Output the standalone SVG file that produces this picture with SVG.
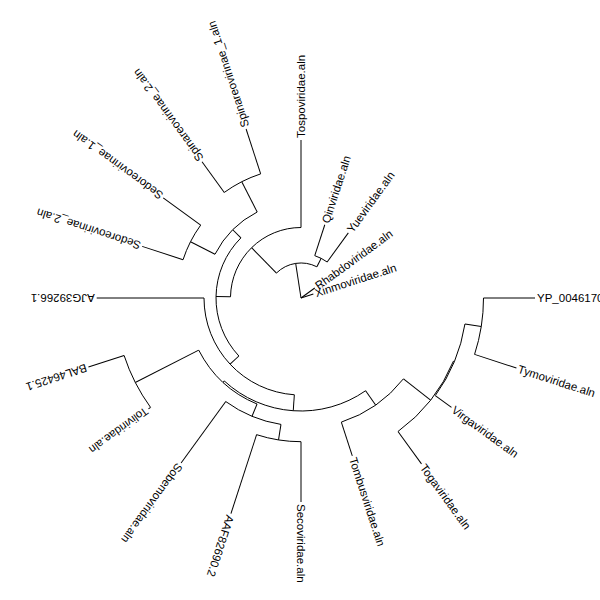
<svg xmlns="http://www.w3.org/2000/svg" width="600" height="600" viewBox="0 0 600 600">
<style>
.e{fill:none;stroke:#000;stroke-width:1}
text{font-family:"Liberation Sans",Arial,Helvetica,sans-serif;font-size:11.5px;fill:#000}
</style>
<rect width="600" height="600" fill="#fff"/>
<g id="connectors">
<!-- arcs -->
<path class="e" d="M483.5 298 A182.5 182.5 0 0 1 474.57 354.40"/>
<path class="e" d="M464.96 323.97 A166 166 0 0 1 435.30 395.57"/>
<path class="e" d="M453.44 361.14 A165 165 0 0 1 397.99 431.49"/>
<path class="e" d="M403.48 378.79 A130.5 130.5 0 0 1 341.33 422.11"/>
<path class="e" d="M301 441.7 A143.7 143.7 0 0 1 256.59 434.67"/>
<path class="e" d="M280.98 424.42 A128 128 0 0 1 225.76 401.55"/>
<path class="e" d="M150.52 407.33 A186 186 0 0 1 124.10 355.48"/>
<path class="e" d="M257.07 404.06 A114.8 114.8 0 0 1 198.71 350.12"/>
<path class="e" d="M365.61 390.71 A113 113 0 0 1 224.30 380.98"/>
<path class="e" d="M294.34 394.77 A97 97 0 0 1 204 298"/>
<path class="e" d="M183.07 259.68 A124 124 0 0 1 200.68 225.11"/>
<path class="e" d="M224.29 192.42 A130.5 130.5 0 0 1 260.67 173.89"/>
<path class="e" d="M215.02 254.19 A96.5 96.5 0 0 1 257.19 212.02"/>
<path class="e" d="M238.87 356.00 A85 85 0 0 1 240.90 237.90"/>
<path class="e" d="M230.51 296.79 A70.5 70.5 0 0 1 301 227.5"/>
<path class="e" d="M314.75 255.68 A44.5 44.5 0 0 1 327.16 262.00"/>
<path class="e" d="M276.46 273.04 A35 35 0 0 1 316.89 266.81"/>
<!-- leaf branches -->
<line class="e" x1="483.5" y1="298" x2="535" y2="298"/>
<line class="e" x1="483.5" y1="298" x2="527.5" y2="298" transform="rotate(18 301 298)"/>
<line class="e" x1="467" y1="298" x2="487" y2="298" transform="rotate(36 301 298)"/>
<line class="e" x1="466" y1="298" x2="506" y2="298" transform="rotate(54 301 298)"/>
<line class="e" x1="431.5" y1="298" x2="467" y2="298" transform="rotate(72 301 298)"/>
<line class="e" x1="444.7" y1="298" x2="505" y2="298" transform="rotate(90 301 298)"/>
<line class="e" x1="444.7" y1="298" x2="527.7" y2="298" transform="rotate(108 301 298)"/>
<line class="e" x1="429" y1="298" x2="505" y2="298" transform="rotate(126 301 298)"/>
<line class="e" x1="487" y1="298" x2="489.5" y2="298" transform="rotate(144 301 298)"/>
<line class="e" x1="487" y1="298" x2="524.5" y2="298" transform="rotate(162 301 298)"/>
<line class="e" x1="398" y1="298" x2="505.3" y2="298" transform="rotate(180 301 298)"/>
<line class="e" x1="425" y1="298" x2="468" y2="298" transform="rotate(198 301 298)"/>
<line class="e" x1="425" y1="298" x2="471.3" y2="298" transform="rotate(216 301 298)"/>
<line class="e" x1="431.5" y1="298" x2="469.4" y2="298" transform="rotate(234 301 298)"/>
<line class="e" x1="431.5" y1="298" x2="478.7" y2="298" transform="rotate(252 301 298)"/>
<line class="e" x1="371.5" y1="298" x2="459" y2="298" transform="rotate(270 301 298)"/>
<line class="e" x1="345.5" y1="298" x2="378" y2="298" transform="rotate(288 301 298)"/>
<line class="e" x1="345.5" y1="298" x2="381.5" y2="298" transform="rotate(306 301 298)"/>
<line class="e" x1="301" y1="298" x2="318" y2="298" transform="rotate(324 301 298)"/>
<line class="e" x1="301" y1="298" x2="314" y2="298" transform="rotate(342 301 298)"/>
<!-- internal stems -->
<line class="e" x1="467" y1="298" x2="483.5" y2="298" transform="rotate(9 301 298)"/>
<line class="e" x1="466" y1="298" x2="467" y2="298" transform="rotate(22.5 301 298)"/>
<line class="e" x1="431.5" y1="298" x2="466" y2="298" transform="rotate(38.25 301 298)"/>
<line class="e" x1="414" y1="298" x2="431.5" y2="298" transform="rotate(55.125 301 298)"/>
<line class="e" x1="429" y1="298" x2="444.7" y2="298" transform="rotate(99 301 298)"/>
<line class="e" x1="415.8" y1="298" x2="429" y2="298" transform="rotate(112.5 301 298)"/>
<line class="e" x1="415.8" y1="298" x2="487" y2="298" transform="rotate(153 301 298)"/>
<line class="e" x1="414" y1="298" x2="415.8" y2="298" transform="rotate(132.75 301 298)"/>
<line class="e" x1="398" y1="298" x2="414" y2="298" transform="rotate(93.9375 301 298)"/>
<line class="e" x1="386" y1="298" x2="398" y2="298" transform="rotate(136.96875 301 298)"/>
<line class="e" x1="397.5" y1="298" x2="425" y2="298" transform="rotate(207 301 298)"/>
<line class="e" x1="397.5" y1="298" x2="431.5" y2="298" transform="rotate(243 301 298)"/>
<line class="e" x1="386" y1="298" x2="397.5" y2="298" transform="rotate(225 301 298)"/>
<line class="e" x1="371.5" y1="298" x2="386" y2="298" transform="rotate(180.984375 301 298)"/>
<line class="e" x1="336" y1="298" x2="371.5" y2="298" transform="rotate(225.4921875 301 298)"/>
<line class="e" x1="336" y1="298" x2="345.5" y2="298" transform="rotate(297 301 298)"/>
<line class="e" x1="301" y1="298" x2="336" y2="298" transform="rotate(261.24609375 301 298)"/>
</g>
<g id="leaf-YP"><text x="537" y="298" dy="0.35em">YP_0046170</text></g>
<g id="leaf-Tymoviridae"><text x="529.5" y="298" dy="0.35em" transform="rotate(18 301 298)">Tymoviridae.aln</text></g>
<g id="leaf-Virgaviridae"><text x="489" y="298" dy="0.35em" transform="rotate(36 301 298)">Virgaviridae.aln</text></g>
<g id="leaf-Togaviridae"><text x="508" y="298" dy="0.35em" transform="rotate(54 301 298)">Togaviridae.aln</text></g>
<g id="leaf-Tombusviridae"><text x="469" y="298" dy="0.35em" transform="rotate(72 301 298)">Tombusviridae.aln</text></g>
<g id="leaf-Secoviridae"><text x="507" y="298" dy="0.35em" transform="rotate(90 301 298)">Secoviridae.aln</text></g>
<g id="leaf-AAF82690"><text x="529.7" y="298" dy="0.35em" transform="rotate(108 301 298)">AAF82690.2</text></g>
<g id="leaf-Sobemoviridae"><text x="507" y="298" dy="0.35em" transform="rotate(126 301 298)">Sobemoviridae.aln</text></g>
<g id="leaf-Toliviridae"><text x="491.5" y="298" dy="0.35em" transform="rotate(144 301 298)">Toliviridae.aln</text></g>
<g id="leaf-BAL46425"><text x="526.5" y="298" dy="0.35em" transform="rotate(162 301 298)">BAL46425.1</text></g>
<g id="leaf-AJG39266"><text x="507.3" y="298" dy="0.35em" transform="rotate(180 301 298)">AJG39266.1</text></g>
<g id="leaf-Sedoreovirinae2"><text x="470" y="298" dy="0.35em" transform="rotate(198 301 298)">Sedoreovirinae_2.aln</text></g>
<g id="leaf-Sedoreovirinae1"><text x="473.3" y="298" dy="0.35em" transform="rotate(216 301 298)">Sedoreovirinae_1.aln</text></g>
<g id="leaf-Spinareovirinae2"><text x="471.4" y="298" dy="0.35em" transform="rotate(234 301 298)">Spinareovirinae_2.aln</text></g>
<g id="leaf-Spinareovirinae1"><text x="480.7" y="298" dy="0.35em" transform="rotate(252 301 298)">Spinareovirinae_1.aln</text></g>
<g id="leaf-Tospoviridae"><text x="461" y="298" dy="0.35em" transform="rotate(270 301 298)">Tospoviridae.aln</text></g>
<g id="leaf-Qinviridae"><text x="380" y="298" dy="0.35em" transform="rotate(288 301 298)">Qinviridae.aln</text></g>
<g id="leaf-Yueviridae"><text x="383.5" y="298" dy="0.35em" transform="rotate(306 301 298)">Yueviridae.aln</text></g>
<g id="leaf-Rhabdoviridae"><text x="320" y="298" dy="0.35em" transform="rotate(324 301 298)">Rhabdoviridae.aln</text></g>
<g id="leaf-Xinmoviridae"><text x="316" y="298" dy="0.35em" transform="rotate(342 301 298)">Xinmoviridae.aln</text></g>
</svg>
